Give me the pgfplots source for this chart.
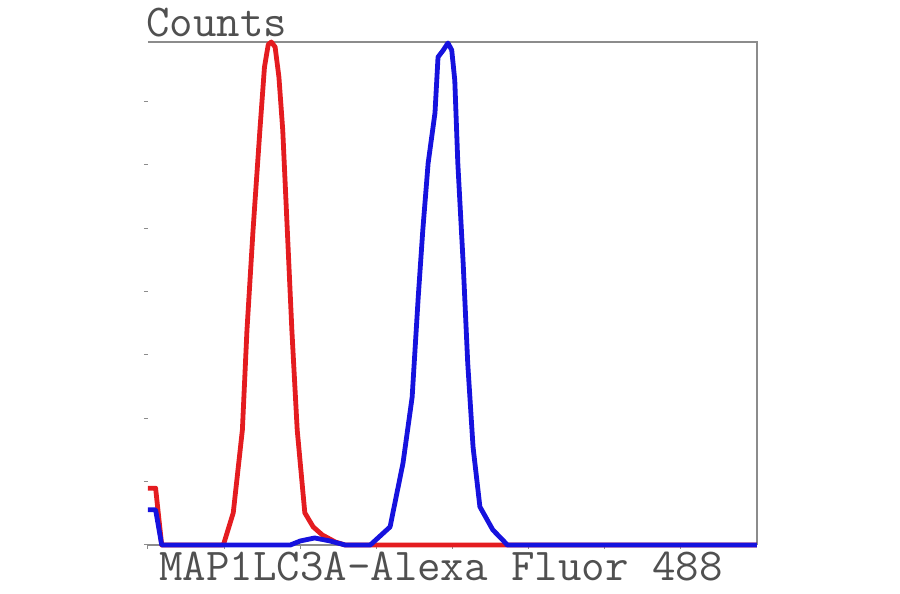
\documentclass[border=0pt]{standalone}
\usepackage{pgfplots}
\pgfplotsset{compat=1.18}
\usepackage{fontspec}
\definecolor{fred}{RGB}{228,28,32}
\definecolor{fblue}{RGB}{22,18,222}
\definecolor{txtgray}{RGB}{80,80,80}
\definecolor{axgray}{RGB}{140,140,140}
\begin{document}
\begin{tikzpicture}
\path[use as bounding box] (-74pt,-24.5pt) rectangle (376pt,272.5pt);
\begin{axis}[
  at={(0,0)}, anchor=origin,
  scale only axis,
  width=304.5pt, height=251.5pt,
  xmin=0, xmax=8, ymin=0, ymax=1000,
  axis line style={draw=none},
  xtick={0,1,2,3,4,5,6,7},
  ytick={0,126,252,378,504,630,756,882},
  xticklabels={}, yticklabels={},
  xtick pos=bottom, ytick pos=left,
  tick align=outside,
  major tick length=2pt,
  tick style={axgray, line width=0.5pt},
  clip=false,
]
\draw[axgray, line width=1pt] (axis cs:0,0) -- (axis cs:8,0);
\draw[axgray, line width=1pt] (axis cs:0,1000) -- (axis cs:8,1000) -- (axis cs:8,0);
\addplot[fred, line width=2.4pt, line join=round] coordinates {
(0,113) (0.1,113) (0.18,0) (0.99,0) (1.12,64) (1.24,229) (1.30,427) (1.38,626)
(1.47,825) (1.53,950) (1.58,995) (1.62,1000) (1.67,990) (1.72,930) (1.77,825) (1.83,626) (1.89,427)
(1.96,229) (2.06,64) (2.17,36) (2.29,20) (2.46,6) (2.59,0) (8,0)
};
\addplot[fblue, line width=2.4pt, line join=round] coordinates {
(0,70) (0.1,70) (0.18,0) (1.87,0) (2.0,8) (2.19,14) (2.39,8) (2.59,0) (2.92,0)
(3.18,36) (3.35,163) (3.47,294) (3.55,493) (3.61,626) (3.68,759) (3.77,859)
(3.81,970) (3.88,984) (3.94,998) (3.99,984) (4.03,924) (4.07,759) (4.14,561)
(4.20,362) (4.27,195) (4.36,76) (4.53,30) (4.66,10) (4.72,0) (8,0)
};
\end{axis}
\node[anchor=base west, inner sep=0pt, text=txtgray, font=\ttfamily\fontsize{22.8pt}{23pt}\selectfont] at (-1pt,254pt) {Counts};
\node[anchor=base, inner sep=0pt, text=txtgray, font=\ttfamily\fontsize{22.8pt}{23pt}\selectfont] at (146.5pt,-18pt) {MAP1LC3A-Alexa Fluor 488};
\end{tikzpicture}
\end{document}
